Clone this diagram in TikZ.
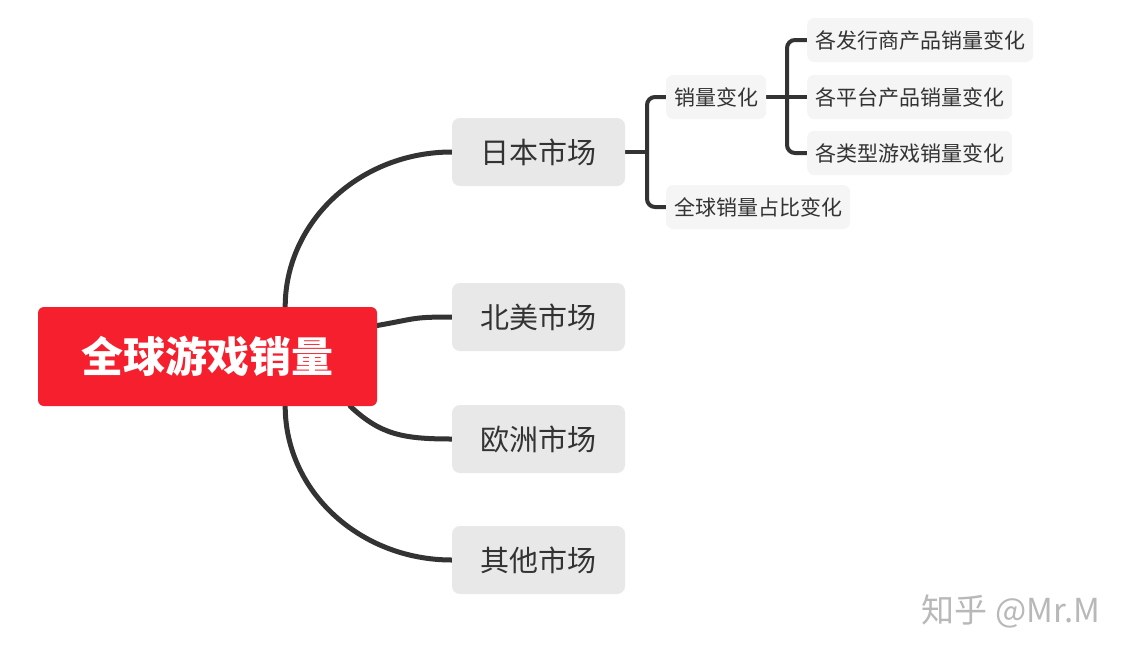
\documentclass[tikz,border=0pt]{standalone}
\usepackage{fontspec}
\setmainfont{Noto Sans CJK SC}
\usetikzlibrary{positioning,backgrounds}
\definecolor{rootred}{HTML}{F51F2D}
\definecolor{linegray}{HTML}{333333}
\definecolor{boxgray}{HTML}{E8E8E8}
\definecolor{leafgray}{HTML}{F5F5F5}
\definecolor{textgray}{HTML}{333333}
\definecolor{markgray}{HTML}{B8B8B8}

\begin{document}
\begin{tikzpicture}[
    x=1pt, y=-1pt, % pixel-like grid, origin top left
    rootbox/.style={rectangle, rounded corners=6pt, fill=rootred, text=white, font=\fontsize{42}{42}\selectfont\bfseries, minimum width=339pt, minimum height=99pt, inner sep=0pt},
    market/.style={rectangle, rounded corners=8pt, fill=boxgray, text=textgray, font=\fontsize{29}{29}\selectfont, minimum width=173pt, minimum height=68pt, inner sep=0pt},
    topic/.style={rectangle, rounded corners=7pt, fill=leafgray, text=textgray, font=\fontsize{21}{21}\selectfont, minimum height=44pt, inner xsep=8pt, inner ysep=0pt},
    watermark/.style={text=markgray, font=\fontsize{33}{33}\selectfont},
    branch/.style={line width=5pt, draw=linegray, line cap=round},
    bracket/.style={line width=4pt, draw=linegray, rounded corners=8pt}
]
    \useasboundingbox (0,0) rectangle (1134,659);

    % Nodes
    \node[rootbox] (root) at (207.5,356.5) {全球游戏销量};
    \node[market] (jp) at (538.5,152) {日本市场};
    \node[market] (na) at (538.5,317) {北美市场};
    \node[market] (eu) at (538.5,439) {欧洲市场};
    \node[market] (ot) at (538.5,560) {其他市场};
    \node[topic, anchor=west] (sales) at (666,97) {销量变化};
    \node[topic, anchor=west] (share) at (666,207) {全球销量占比变化};
    \node[topic, anchor=west] (pub) at (807,40) {各发行商产品销量变化};
    \node[topic, anchor=west] (plat) at (807,97) {各平台产品销量变化};
    \node[topic, anchor=west] (genre) at (807,153) {各类型游戏销量变化};
    \node[watermark] (mark) at (1011,611) {知乎 @Mr.M};

    \coordinate (jpfork) at ([xshift=-19pt]sales.west);
    \coordinate (salesfork) at ([xshift=-20pt]pub.west);

    % Connections
    \begin{scope}[on background layer]
    \fill[white] (0,0) rectangle (1134,659);
    \draw[branch] ([xshift=-92pt]root.north east) .. controls +(0,-85) and +(-92,0) .. (jp.west);
    \draw[branch] ([yshift=31pt]root.east) .. controls +(40,-7) and +(-40,0) .. (na.west);
    \draw[branch] ([xshift=-27pt]root.south east) .. controls +(30,28) and +(-50,0) .. (eu.west);
    \draw[branch] ([xshift=-92pt]root.south east) .. controls +(0,85) and +(-92,0) .. (ot.west);
    \draw[bracket] (jp.east) -- (jpfork |- jp.east);
    \draw[bracket] (sales.west) -| (jpfork |- share.west) -- (share.west);
    \draw[bracket] (sales.east) -- (plat.west);
    \draw[bracket] (pub.west) -| (salesfork |- genre.west) -- (genre.west);
    \end{scope}
\end{tikzpicture}
\end{document}
